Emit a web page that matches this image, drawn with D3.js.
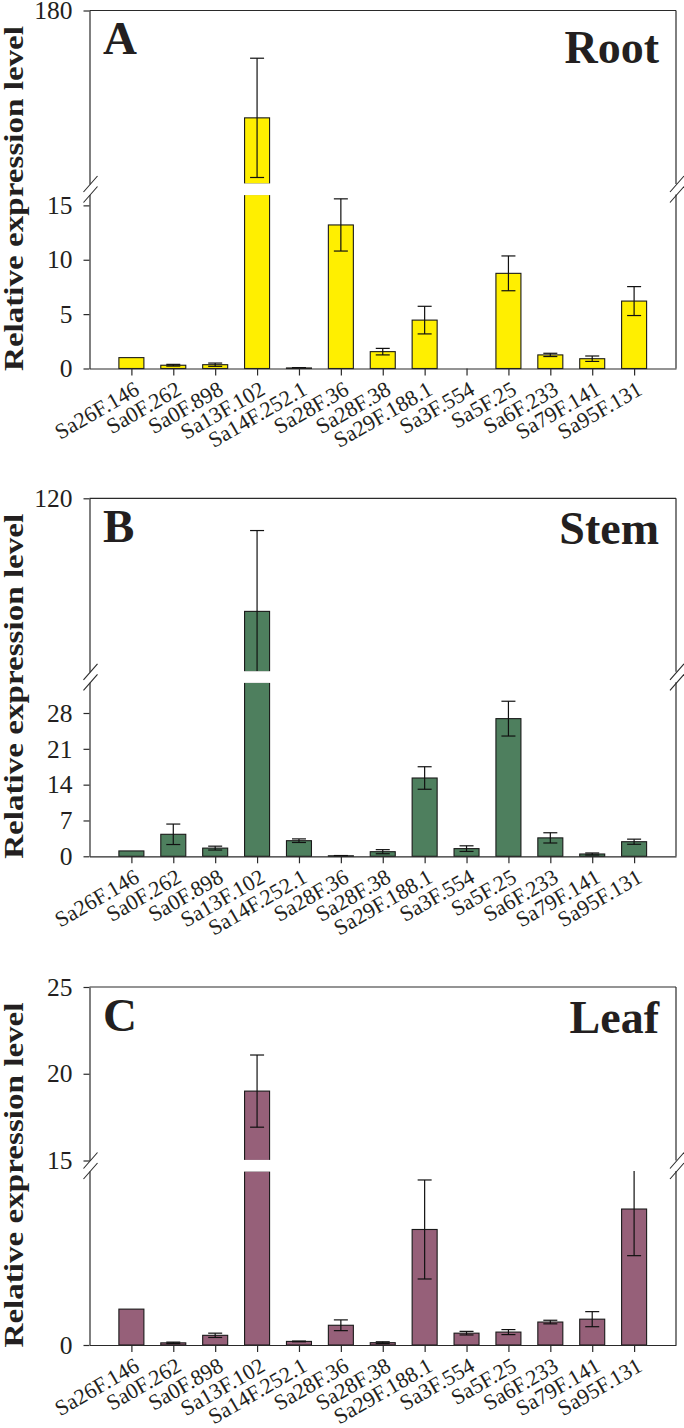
<!DOCTYPE html>
<html><head><meta charset="utf-8">
<script src="https://cdn.jsdelivr.net/npm/d3@7"></script>
<style>body{margin:0;background:#fff}svg{display:block}</style>
</head><body><svg id="c" width="684" height="1428"></svg>
<script>
const categories = ["Sa26F.146","Sa0F.262","Sa0F.898","Sa13F.102","Sa14F.252.1","Sa28F.36","Sa28F.38","Sa29F.188.1","Sa3F.554","Sa5F.25","Sa6F.233","Sa79F.141","Sa95F.131"];

const rootValues = [1.0, 0.3, 0.35, 81, 0.05, 13.2, 1.55, 4.45, 0, 8.75, 1.25, 0.9, 6.2];
const rootErrors = [0, 0.08, 0.15, 55, 0.03, 2.4, 0.3, 1.27, 0, 1.6, 0.15, 0.25, 1.33];
const stemValues = [1.05, 4.3, 1.6, 64.6, 3.05, 0.1, 0.9, 15.3, 1.5, 26.9, 3.6, 0.45, 2.85];
const stemErrors = [0, 2.0, 0.38, 39.6, 0.35, 0.05, 0.4, 2.2, 0.55, 3.4, 1.0, 0.2, 0.5];
const leafValues = [1.0, 0.06, 0.27, 19.0, 0.1, 0.55, 0.065, 3.22, 0.33, 0.36, 0.64, 0.72, 3.79];
const leafErrors = [0, 0.02, 0.06, 2.08, 0.01, 0.15, 0.025, 1.38, 0.05, 0.07, 0.05, 0.21, 1.3];

const rootLowerDomain = [0, 16], rootUpperDomain = [20, 180];
const stemLowerDomain = [0, 34], stemUpperDomain = [35, 120];
const leafLowerDomain = [0, 4.85], leafUpperDomain = [15, 25];
const rootLowerTicks = [0, 5, 10, 15], rootUpperTicks = [180];
const stemLowerTicks = [0, 7, 14, 21, 28], stemUpperTicks = [120];
const leafLowerTicks = [0], leafUpperTicks = [15, 20, 25];

const yTitle = "Relative expression level";

const panels = [
  {letter:"A", name:"Root", values:rootValues, errors:rootErrors, color:"#FFEF00",
   lower:rootLowerDomain, upper:rootUpperDomain, lTicks:rootLowerTicks, uTicks:rootUpperTicks, top:10.5, nameDy:52},
  {letter:"B", name:"Stem", values:stemValues, errors:stemErrors, color:"#4E7F5E",
   lower:stemLowerDomain, upper:stemUpperDomain, lTicks:stemLowerTicks, uTicks:stemUpperTicks, top:498.3, nameDy:46},
  {letter:"C", name:"Leaf", values:leafValues, errors:leafErrors, color:"#966079",
   lower:leafLowerDomain, upper:leafUpperDomain, lTicks:leafLowerTicks, uTicks:leafUpperTicks, top:987, nameDy:46}
];

const svg = d3.select("#c");
svg.append("rect").attr("width",684).attr("height",1428).attr("fill","#fff");
const xLeft = 89.5, xRight = 676;
const x = d3.scalePoint().domain(categories).range([xLeft, xRight]).padding(1);
const barW = 25, capW = 14;
const lineCol = "#2a2a2a", textCol = "#231f20";
const serif = "'Liberation Serif','Times New Roman',serif";

panels.forEach(p => {
  const T = p.top, ub = T + 173.5, lt = T + 184, base = T + 358;
  const yU = d3.scaleLinear().domain(p.upper).range([ub, T]);
  const yL = d3.scaleLinear().domain(p.lower).range([base, lt]);
  const lmax = p.lower[1], umin = p.upper[0];
  const data = categories.map((c, i) => ({c, v:p.values[i], e:p.errors[i]}));
  const g = svg.append("g");

  // frame: top and right
  g.append("line").attr("x1", xLeft).attr("x2", xRight).attr("y1", T).attr("y2", T)
    .attr("stroke", lineCol).attr("stroke-width", 1.2);
  g.append("line").attr("x1", xRight).attr("x2", xRight).attr("y1", T).attr("y2", ub)
    .attr("stroke", lineCol).attr("stroke-width", 1.2);
  g.append("line").attr("x1", xRight).attr("x2", xRight).attr("y1", lt).attr("y2", base)
    .attr("stroke", lineCol).attr("stroke-width", 1.2);

  // bars lower
  g.selectAll("rect.low").data(data.filter(d => d.v > 0)).join("rect").attr("class","low")
    .attr("x", d => x(d.c) - barW/2).attr("width", barW)
    .attr("y", d => yL(Math.min(d.v, lmax))).attr("height", d => base - yL(Math.min(d.v, lmax)))
    .attr("fill", p.color).attr("stroke", "#1a1a1a").attr("stroke-width", 1.1);
  // bars upper
  const big = data.filter(d => d.v > lmax && d.v > umin);
  g.selectAll("rect.up").data(big).join("rect").attr("class","up")
    .attr("x", d => x(d.c) - barW/2).attr("width", barW)
    .attr("y", d => yU(d.v)).attr("height", d => ub - yU(d.v))
    .attr("fill", p.color).attr("stroke", "#1a1a1a").attr("stroke-width", 1.1);

  // error bars
  const segs = [];
  data.forEach(d => {
    if (d.e <= 0 || d.v <= 0) return;
    const cx = x(d.c), lo = d.v - d.e, hi = d.v + d.e;
    if (d.v <= lmax) {
      const yt = hi <= lmax ? yL(hi) : lt;
      const yb = yL(Math.max(lo, 0));
      segs.push([cx, yb, cx, yt]);
      if (hi <= lmax) segs.push([cx - capW/2, yt, cx + capW/2, yt]);
      segs.push([cx - capW/2, yb, cx + capW/2, yb]);
    } else {
      const yt = yU(Math.min(hi, p.upper[1]));
      const yb = lo >= umin ? yU(lo) : ub;
      segs.push([cx, yb, cx, yt]);
      segs.push([cx - capW/2, yt, cx + capW/2, yt]);
      if (lo >= umin) segs.push([cx - capW/2, yb, cx + capW/2, yb]);
    }
  });
  g.selectAll("line.err").data(segs).join("line").attr("class","err")
    .attr("x1", s => s[0]).attr("y1", s => s[1]).attr("x2", s => s[2]).attr("y2", s => s[3])
    .attr("stroke", "#111").attr("stroke-width", 1.2);

  // white gap across broken bars
  g.selectAll("rect.gap").data(big).join("rect").attr("class","gap")
    .attr("x", d => x(d.c) - barW/2 - 2).attr("width", barW + 4)
    .attr("y", ub - 0.6).attr("height", lt - ub + 1.2).attr("fill", "#fff");

  // y axes
  const styleAxis = sel => {
    sel.selectAll("path.domain").attr("stroke", lineCol).attr("stroke-width", 1.2);
    sel.selectAll(".tick line").attr("stroke", lineCol).attr("stroke-width", 1.2);
    sel.selectAll(".tick text").attr("font-family", serif).attr("font-size", 25.5).attr("fill", textCol);
  };
  g.append("g").attr("transform", `translate(${xLeft},0)`)
    .call(d3.axisLeft(yU).tickValues(p.uTicks).tickSize(6).tickSizeOuter(0).tickPadding(11).tickFormat(d3.format("d")))
    .call(styleAxis);
  g.append("g").attr("transform", `translate(${xLeft},0)`)
    .call(d3.axisLeft(yL).tickValues(p.lTicks).tickSize(6).tickSizeOuter(0).tickPadding(11).tickFormat(d3.format("d")))
    .call(styleAxis);

  // break marks
  [xLeft, xRight].forEach(bx => {
    [ub, lt].forEach(by => {
      g.append("line").attr("x1", bx - 6).attr("y1", by + 8).attr("x2", bx + 8).attr("y2", by - 8)
        .attr("stroke", lineCol).attr("stroke-width", 1.1);
    });
  });

  // x axis
  const xa = g.append("g").attr("transform", `translate(0,${base})`)
    .call(d3.axisBottom(x).tickSize(7).tickSizeOuter(0));
  xa.selectAll("path.domain").attr("stroke", lineCol).attr("stroke-width", 1.2);
  xa.selectAll(".tick line").attr("stroke", lineCol).attr("stroke-width", 1.2);
  xa.selectAll(".tick text")
    .attr("font-family", serif).attr("font-size", 22).attr("fill", textCol)
    .attr("text-anchor", "end").attr("y", 0).attr("dy", 0)
    .attr("transform", "translate(9,25) rotate(-30)");

  // y title
  g.append("text").attr("transform", `translate(23,${T + 188}) rotate(-90)`)
    .attr("text-anchor", "middle").attr("font-family", serif).attr("font-weight", "bold")
    .attr("font-size", 27).attr("fill", textCol)
    .attr("textLength", 345).attr("lengthAdjust", "spacingAndGlyphs").text(yTitle);

  // panel letter and organ name
  g.append("text").attr("x", 103).attr("y", T + 43.5).attr("font-family", serif)
    .attr("font-weight", "bold").attr("font-size", 47).attr("fill", textCol).text(p.letter);
  g.append("text").attr("x", 659).attr("y", T + p.nameDy).attr("text-anchor", "end").attr("font-family", serif)
    .attr("font-weight", "bold").attr("font-size", 46).attr("fill", textCol).text(p.name);
});
</script></body></html>
